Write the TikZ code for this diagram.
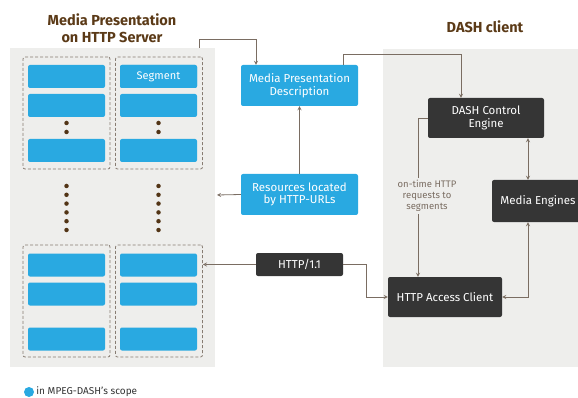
\documentclass[tikz,border=0pt]{standalone}
\usepackage{fontspec}
\setmainfont{Fira Sans}
\usepackage{tikz}
\usetikzlibrary{positioning}
\usetikzlibrary{calc}
\usetikzlibrary{arrows}

\definecolor{segblue}{HTML}{29A9E1}
\definecolor{boxdark}{HTML}{353535}
\definecolor{panelgrey}{HTML}{EEEEEC}
\definecolor{linebrown}{HTML}{7A6D62}
\definecolor{titlebrown}{HTML}{5B3A17}

\begin{document}
\begin{tikzpicture}[x=1pt, y=-1pt,
	seg/.style={fill=segblue, rounded corners=2pt, minimum width=77pt, minimum height=23pt, inner sep=0pt, text=white, font=\fontsize{11}{13}\selectfont},
	bluebox/.style={fill=segblue, rounded corners=2pt, minimum width=117pt, minimum height=41pt, inner sep=0pt, text=white, align=center, font=\fontsize{11.5}{12.5}\selectfont},
	darkbox/.style={fill=boxdark, rounded corners=2pt, inner sep=0pt, text=white, align=center, font=\fontsize{11.5}{12.5}\selectfont},
	group/.style={draw=linebrown!90, line width=0.8pt, dash pattern=on 3pt off 2pt, rounded corners=2pt, minimum width=87pt, minimum height=112pt, inner sep=0pt},
	conn/.style={draw=linebrown, line width=0.8pt, -stealth},
	dconn/.style={draw=linebrown, line width=0.8pt, stealth-stealth},
	title/.style={text=titlebrown, font=\fontsize{14.5}{17}\selectfont\bfseries, align=center},
	dot/.style={circle, fill=titlebrown!90!black, inner sep=0pt, minimum size=4.5pt}]
	\useasboundingbox (0,0) rectangle (578,398);

	% server and client panels
	\fill[panelgrey] (10,48) rectangle (215,367);
	\fill[panelgrey] (383,49) rectangle (578,367);

	\node[title] (srvtitle) at (112,28) {Media Presentation\\on HTTP Server};
	\node[title] (clititle) at (485,27) {DASH client};

	% segment groups
	\node[group] (grp11) at (66.5,113) {};
	\node[group] (grp12) at (159,113) {};
	\node[group] (grp21) at (66.5,301) {};
	\node[group] (grp22) at (159,301) {};

	\foreach \c/\x in {1/66.5, 2/158.5} {
		\foreach \r/\y in {1/76.5, 2/105.5, 3/150.5, 4/265, 5/294, 6/339}
			\node[seg] (seg-\c-\r) at (\x,\y) {};
		\foreach \y in {123, 132, 186, 194.8, 203.6, 212.4, 221.2, 230}
			\node[dot] at (\x,\y) {};
	}
	\node[seg] at (seg-2-1) {Segment};

	% MPD and resources
	\node[bluebox] (mpd) at (299.5,85.5) {Media Presentation\\Description};
	\node[bluebox] (res) at (299.5,194.5) {Resources located\\by HTTP-URLs};
	\node[darkbox, minimum width=87pt, minimum height=23pt] (http) at (299.5,264.5) {HTTP/1.1};

	% client blocks
	\node[darkbox, minimum width=116pt, minimum height=40pt] (dce) at (486,118) {DASH Control\\Engine};
	\node[darkbox, minimum width=92pt, minimum height=42pt] (me) at (538,201) {Media Engines};
	\node[darkbox, minimum width=114pt, minimum height=40pt] (hac) at (445,297) {HTTP Access Client};

	% connectors
	\coordinate (srv-out) at (199,48);
	\coordinate (srv-in) at (217,195);
	\draw[conn] (srv-out) -- ++(0,-9) -| ([xshift=-43.5pt]mpd.north);
	\draw[conn] ([xshift=43.5pt]mpd.north) -- ++(0,-10) -| ([xshift=-25pt]dce.north);
	\draw[conn] (res.north) -- (mpd.south);
	\draw[conn] (res.west) -- (srv-in);
	\draw[conn] (dce.west) -| ([xshift=-27pt]hac.north);
	\node[fill=panelgrey, text=linebrown, align=center, inner sep=2pt, font=\fontsize{9.5}{11}\selectfont] (req) at (427,196) {on-time HTTP\\requests to\\segments};
	\draw[dconn] ([xshift=42pt]dce.south) -- ([xshift=-10pt]me.north);
	\draw[dconn] (hac.east) -| ([xshift=-10pt]me.south);
	\draw[conn] (http.west) -- (http.west -| grp22.east);
	\draw[conn] (http.east) -- ++(23,0) |- (hac.west);

	% legend
	\node[circle, fill=segblue, inner sep=0pt, minimum size=10pt] (key) at (29,392) {};
	\node[right=2pt of key, inner sep=0pt, text=black!80, font=\fontsize{10}{12}\selectfont] (keytext) {in MPEG-DASH's scope};
\end{tikzpicture}
\end{document}
